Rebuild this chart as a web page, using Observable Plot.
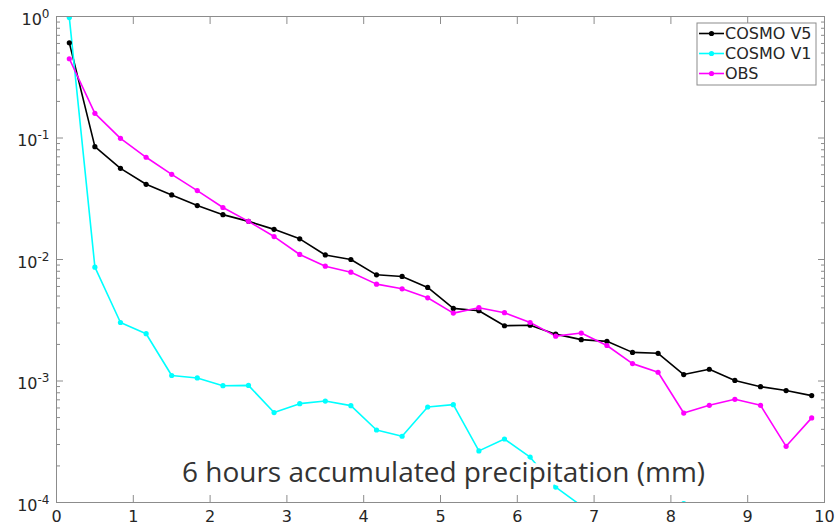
<!DOCTYPE html>
<html>
<head>
<meta charset="utf-8">
<script src="https://cdn.jsdelivr.net/npm/d3@7"></script>
<script src="https://cdn.jsdelivr.net/npm/@observablehq/plot@0.6"></script>
<style>
  html, body { margin: 0; padding: 0; background: #fff; }
  #chart { width: 838px; height: 525px; }
</style>
</head>
<body>
<div id="chart"></div>
<script>
// Bin centres of 6-hour accumulated precipitation (mm)
const binCentre = [0.167, 0.5, 0.833, 1.167, 1.5, 1.833, 2.167, 2.5, 2.833, 3.167,
                   3.5, 3.833, 4.167, 4.5, 4.833, 5.167, 5.5, 5.833, 6.167, 6.5,
                   6.833, 7.167, 7.5, 7.833, 8.167, 8.5, 8.833, 9.167, 9.5, 9.833];

// Relative frequency in each bin
const cosmoV5 = [0.608, 0.0849, 0.0563, 0.0416, 0.034, 0.0278, 0.0234, 0.0206, 0.0177, 0.0148,
                 0.0109, 0.0100, 0.00748, 0.00725, 0.00589, 0.00396, 0.00379, 0.00285, 0.00288, 0.00243,
                 0.00219, 0.00212, 0.00172, 0.00169, 0.00113, 0.00125, 0.00101, 0.000898, 0.000834, 0.000758];
const cosmoV1 = [0.98, 0.00865, 0.00303, 0.00245, 0.00111, 0.00106, 0.000915, 0.00092, 0.00055, 0.000651,
                 0.000684, 0.000627, 0.000395, 0.000351, 0.000611, 0.000639, 0.000266, 0.000333, 0.000236, 0.000134,
                 0.000094, 0.00005, 0.00003, 0.00004, 0.000098, 0.00006, 0.00004, 0.00003, 0.00005, 0.00002];
const obs = [0.449, 0.1595, 0.0993, 0.0694, 0.0502, 0.0369, 0.0268, 0.0206, 0.01545, 0.0110,
             0.00881, 0.00786, 0.00627, 0.00574, 0.00484, 0.00362, 0.00401, 0.00365, 0.00303, 0.00234,
             0.00248, 0.00196, 0.00139, 0.00118, 0.000545, 0.000631, 0.000707, 0.000631, 0.00029, 0.000497];

const seriesNames = ["COSMO V5", "COSMO V1", "OBS"];
const seriesColors = ["#000000", "#00ffff", "#ff00ff"];
const seriesValues = [cosmoV5, cosmoV1, obs];

const xTicks = [0, 1, 2, 3, 4, 5, 6, 7, 8, 9, 10];
const yMajor = [1e-4, 1e-3, 1e-2, 1e-1, 1];
const yMinor = yMajor.slice(0, -1).flatMap(d => [2, 3, 4, 5, 6, 7, 8, 9].map(m => m * d));
const caption = "6 hours accumulated precipitation (mm)";

const rows = seriesNames.flatMap((name, k) =>
  seriesValues[k].map((v, i) => ({x: binCentre[i], y: v, series: name})));

const axisGrey = "#8c8c8c";
const inward = {fill: "none", stroke: axisGrey, label: null};

const plot = Plot.plot({
  width: 838,
  height: 525,
  marginLeft: 56,
  marginRight: 14,
  marginTop: 16,
  marginBottom: 23,
  style: {fontFamily: "DejaVu Sans", fontSize: "16px", color: "#262626", background: "#fff"},
  x: {domain: [0, 10]},
  y: {type: "log", domain: [1e-4, 1]},
  color: {domain: seriesNames, range: seriesColors},
  marks: [
    Plot.line(rows, {x: "x", y: "y", z: "series", stroke: "series", strokeWidth: 1.6, clip: true}),
    Plot.dot(rows, {x: "x", y: "y", fill: "series", r: 2.6, clip: true}),
    Plot.text([caption], {
      text: d => d, frameAnchor: "bottom", dx: 3, dy: -21,
      fontFamily: "Open Sans", fontSize: 28, fill: "#333",
      stroke: "white", strokeWidth: 8, ariaLabel: "caption"
    }),
    Plot.frame({stroke: axisGrey}),
    Plot.axisX({anchor: "bottom", ticks: xTicks, tickSize: -7, ...inward}),
    Plot.axisX({anchor: "top", ticks: xTicks, tickSize: -7, ...inward}),
    Plot.axisX({anchor: "bottom", ticks: xTicks, tickSize: 0, tickPadding: 8, label: null, fill: "#262626"}),
    Plot.axisY({anchor: "left", ticks: yMajor, tickSize: -7, ...inward}),
    Plot.axisY({anchor: "right", ticks: yMajor, tickSize: -7, ...inward}),
    Plot.axisY({anchor: "left", ticks: yMinor, tickSize: -4, ...inward}),
    Plot.axisY({anchor: "right", ticks: yMinor, tickSize: -4, ...inward}),
    Plot.axisY({
      anchor: "left", ticks: yMajor, tickSize: 0, tickPadding: 7, dy: 3, label: null, fill: "#262626",
      tickFormat: d => `10^${Math.round(Math.log10(d))}`
    })
  ]
});

const svg = d3.select(plot);

// Powers of ten with raised exponents
svg.selectAll('g[aria-label="y-axis tick label"] text').each(function () {
  const [base, exp] = this.textContent.split("^");
  const t = d3.select(this).text(null);
  t.append("tspan").text(base);
  t.append("tspan").attr("font-size", "12px").attr("dy", "-7px").text(exp);
});

// Soft caption
svg.select('g[aria-label="caption"]').style("filter", "blur(0.5px)");

// Legend box in the upper right of the axes
const legend = svg.append("g").attr("transform", "translate(697,23)")
  .attr("font-family", "DejaVu Sans").attr("font-size", "16px").attr("text-anchor", "start");
legend.append("rect").attr("width", 119).attr("height", 62)
  .attr("fill", "white").attr("stroke", axisGrey);
seriesNames.forEach((name, k) => {
  const cy = 10.5 + k * 20;
  legend.append("line").attr("x1", 2).attr("x2", 27).attr("y1", cy).attr("y2", cy)
    .attr("stroke", seriesColors[k]).attr("stroke-width", 1.6);
  legend.append("circle").attr("cx", 14.5).attr("cy", cy).attr("r", 2.6).attr("fill", seriesColors[k]);
  legend.append("text").attr("x", 28).attr("y", cy).attr("dy", "0.36em")
    .attr("fill", "#262626").text(name);
});

document.getElementById("chart").append(plot);
</script>
</body>
</html>
